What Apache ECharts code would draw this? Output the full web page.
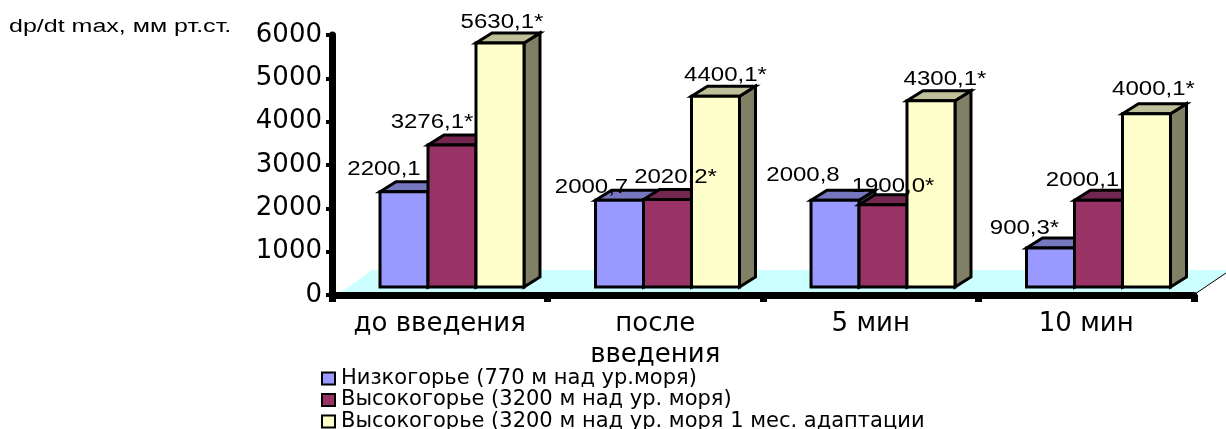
<!DOCTYPE html>
<html>
<head>
<meta charset="utf-8">
<style>html,body{margin:0;padding:0;background:#fff}#chart{width:1226px;height:429px}</style>
<script src="https://cdn.jsdelivr.net/npm/echarts@6/dist/echarts.min.js"></script>
</head>
<body>
<div id="chart"></div>
<script>
// Categories and measured values, dp/dt max
const categories = ['до введения', 'после\nвведения', '5 мин', '10 мин'];
const seriesNames = [
  'Низкогорье (770 м над ур.моря)',
  'Высокогорье (3200 м над ур. моря)',
  'Высокогорье (3200 м над ур. моря 1 мес. адаптации'
];
const lowland = [2200.1, 2000.7, 2000.8, 900.3];
const highland = [3276.1, 2020.2, 1900.0, 2000.1];
const highlandAdapted = [5630.1, 4400.1, 4300.1, 4000.1];
// Values flagged with an asterisk as significant
const lowlandStars = [false, false, false, true];
const highlandStars = [true, true, true, false];
const adaptedStars = [true, true, true, true];

// Hand placement of the value labels relative to each bar top
const labelShifts = [
  [[-20, -22], [-28, -13], [-32, -25], [-26, -20]],
  [[-20, -23], [8, -22], [10, -18], [-16, -20]],
  [[2, -21], [10, -21], [14, -21], [7, -24]]
];

// Oblique projection of the bars and floor
const DEPTH_X = 16, DEPTH_Y = -10, FRONT_LIFT = 8;
const BAR_RATIO = 0.2227, GROUP_SHIFT = 12.25;
const TEXT_STRETCH = 1.2;

const palette = [
  { front: '#9999FF', top: '#7777BF', side: '#4D4D80' },
  { front: '#993366', top: '#732650', side: '#4D1A33' },
  { front: '#FFFFCC', top: '#BFBF99', side: '#808066' }
];
const valueSets = [lowland, highland, highlandAdapted];
const starSets = [lowlandStars, highlandStars, adaptedStars];

function barFrame(api, slot) {
  const band = api.size([1, 0])[0];
  const w = band * BAR_RATIO;
  const cat = api.value(0);
  const top = api.coord([cat, api.value(1)]);
  const base = api.coord([cat, 0]);
  const left = base[0] + GROUP_SHIFT + (slot - 1.5) * w;
  return { left, right: left + w, w, top: top[1] - FRONT_LIFT, base: base[1] - FRONT_LIFT };
}

function renderBar(slot) {
  return function (params, api) {
    const f = barFrame(api, slot);
    const c = palette[slot];
    const line = { stroke: '#000', lineWidth: 3, lineJoin: 'miter' };
    return {
      type: 'group',
      children: [
        { type: 'polygon', shape: { points: [[f.right, f.top], [f.right + DEPTH_X, f.top + DEPTH_Y], [f.right + DEPTH_X, f.base + DEPTH_Y], [f.right, f.base]] }, style: Object.assign({ fill: c.side }, line) },
        { type: 'polygon', shape: { points: [[f.left, f.top], [f.left + DEPTH_X, f.top + DEPTH_Y], [f.right + DEPTH_X, f.top + DEPTH_Y], [f.right, f.top]] }, style: Object.assign({ fill: c.top }, line) },
        { type: 'rect', shape: { x: f.left, y: f.top, width: f.w, height: f.base - f.top }, style: Object.assign({ fill: c.front }, line) }
      ]
    };
  };
}

function renderLabel(slot) {
  return function (params, api) {
    const f = barFrame(api, slot);
    const i = params.dataIndex;
    const shift = labelShifts[slot][i];
    const text = valueSets[slot][i].toFixed(1).replace('.', ',') + (starSets[slot][i] ? '*' : '');
    return {
      type: 'text',
      x: f.left + f.w / 2 + shift[0],
      y: f.top + shift[1],
      scaleX: TEXT_STRETCH,
      style: { text, fontFamily: 'Liberation Sans', fontSize: 20, fill: '#000', align: 'center', verticalAlign: 'middle' }
    };
  };
}

// Pale floor plane behind the bars, with the thin edge at its right end
function renderFloor(params, api) {
  const g = params.coordSys;
  const b = g.y + g.height;
  const r = g.x + g.width;
  return {
    type: 'group',
    children: [
      { type: 'polygon', shape: { points: [[g.x + 6, b - 1], [g.x + 40, b - 25], [api.getWidth(), b - 25], [api.getWidth(), b - 22], [r + 1, b - 1]] }, style: { fill: '#CCFFFF' } },
      { type: 'line', shape: { x1: r + 1, y1: b - 1, x2: api.getWidth(), y2: b - 22 }, style: { stroke: '#000', lineWidth: 1 } }
    ]
  };
}

const series = [{
  type: 'custom', name: 'floor', z: 1, silent: true, clip: false,
  data: [[0, 0]], renderItem: renderFloor
}];
valueSets.forEach((values, slot) => {
  const data = values.map((v, i) => [i, v]);
  series.push({
    type: 'custom', name: seriesNames[slot], z: 4 + slot, clip: false,
    encode: { x: 0, y: 1 }, data, renderItem: renderBar(slot),
    itemStyle: { color: palette[slot].front, borderColor: '#000', borderWidth: 2 }
  });
  series.push({
    type: 'custom', name: seriesNames[slot], z: 9, silent: true, clip: false,
    encode: { x: 0, y: 1 }, data, renderItem: renderLabel(slot),
    itemStyle: { color: palette[slot].front, borderColor: '#000', borderWidth: 2 }
  });
});

const chart = echarts.init(document.getElementById('chart'), null, { renderer: 'canvas' });
chart.setOption({
  animation: false,
  backgroundColor: '#fff',
  graphic: [{
    type: 'text', x: 9, y: 27, scaleX: 1.39,
    style: { text: 'dp/dt max, мм рт.ст.', fontFamily: 'Liberation Sans', fontSize: 18, fill: '#000', align: 'left', verticalAlign: 'middle' }
  }],
  legend: {
    data: seriesNames, orient: 'vertical', left: 321, top: 368, height: 80, padding: 0,
    itemWidth: 13, itemHeight: 12, itemGap: 0.5, icon: 'rect',
    textStyle: { fontFamily: 'DejaVu Sans', fontSize: 21, lineHeight: 16, color: '#000', padding: [0, 0, 0, 1] }
  },
  grid: { left: 332, top: 35, width: 862, height: 260, containLabel: false },
  xAxis: {
    type: 'category', data: categories, z: 3,
    axisLine: { lineStyle: { color: '#000', width: 7 } },
    axisTick: { show: true, length: 7, lineStyle: { color: '#000', width: 7 } },
    axisLabel: { interval: 0, color: '#000', fontFamily: 'DejaVu Sans', fontSize: 26, lineHeight: 31, margin: 14 }
  },
  yAxis: {
    type: 'value', min: 0, max: 6000, interval: 1000, z: 3,
    splitLine: { show: false },
    axisLine: { show: true, lineStyle: { color: '#000', width: 7 } },
    axisTick: { show: true, length: 6, lineStyle: { color: '#000', width: 4 } },
    axisLabel: { color: '#000', fontFamily: 'DejaVu Sans', fontSize: 26, margin: 10, formatter: v => String(v) }
  },
  series
});
</script>
</body>
</html>
